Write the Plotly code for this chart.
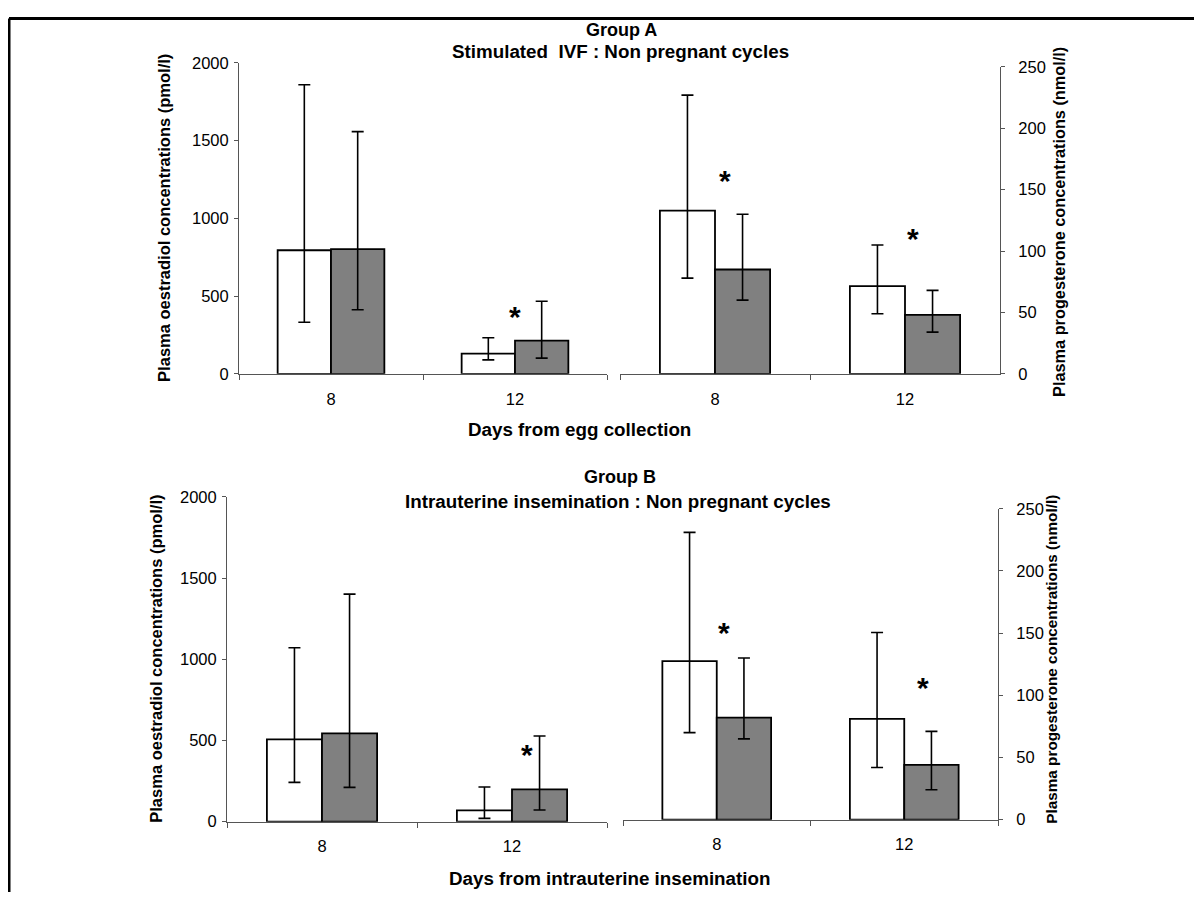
import plotly.graph_objects as go

# ---------------- data ----------------
days = ["8", "12"]

# Group A - oestradiol (pmol/l)
a_e2_ctrl_mean = [795, 130]
a_e2_ctrl_high = [1860, 232]
a_e2_ctrl_low = [332, 90]
a_e2_trt_mean = [802, 214]
a_e2_trt_high = [1558, 467]
a_e2_trt_low = [412, 101]

# Group A - progesterone (nmol/l)
a_p4_ctrl_mean = [133, 71.5]
a_p4_ctrl_high = [227, 105]
a_p4_ctrl_low = [78, 49]
a_p4_trt_mean = [85, 48]
a_p4_trt_high = [130, 68]
a_p4_trt_low = [60, 34]

# Group B - oestradiol (pmol/l)
b_e2_ctrl_mean = [507, 70]
b_e2_ctrl_high = [1071, 213]
b_e2_ctrl_low = [242, 20]
b_e2_trt_mean = [544, 199]
b_e2_trt_high = [1401, 527]
b_e2_trt_low = [211, 72]

# Group B - progesterone (nmol/l)
b_p4_ctrl_mean = [127.5, 81]
b_p4_ctrl_high = [231, 150.5]
b_p4_ctrl_low = [70, 42]
b_p4_trt_mean = [82, 44]
b_p4_trt_high = [130, 71]
b_p4_trt_low = [65, 24]

# significance markers: (category position, value)
a_e2_star_x = [1.0]
a_e2_star_y = [418]
a_p4_star_x = [0.05, 1.04]
a_p4_star_y = [164, 117]
b_e2_star_x = [1.08]
b_e2_star_y = [462]
b_p4_star_x = [0.04, 1.1]
b_p4_star_y = [157, 112.6]

e2_ticks = [0, 500, 1000, 1500, 2000]
p4_ticks = [0, 50, 100, 150, 200, 250]

# ---------------- layout helpers ----------------
OFF = 8  # default body margin of the page
W, H = 1202 - 2 * OFF, 900 - 2 * OFF


def T(y):
    # page position that lands at screen row y
    return (y - 7.2) / 0.98


def px_x(a, b):
    return [(a - OFF) / W, (b - OFF) / W]


def py(y):
    return 1 - (T(y) - OFF) / H


def px_y(top, bottom):
    return [py(bottom), py(top)]


FONT = "Arial, Liberation Sans, sans-serif"
AXC = "#555555"
GREY = "#808080"

fig = go.Figure()


def add_pair(xa, ya, cm, ch, cl, tm, th, tl):
    for mean, hi, lo, fill in ((cm, ch, cl, "white"), (tm, th, tl, GREY)):
        fig.add_trace(go.Bar(
            x=days, y=mean, xaxis=xa, yaxis=ya,
            marker=dict(color=fill, line=dict(color="black", width=1.8)),
            error_y=dict(type="data", symmetric=False,
                         array=[h - m for h, m in zip(hi, mean)],
                         arrayminus=[m - l for m, l in zip(mean, lo)],
                         color="black", thickness=1.6, width=6),
            showlegend=False, hoverinfo="skip"))


add_pair("x", "y", a_e2_ctrl_mean, a_e2_ctrl_high, a_e2_ctrl_low,
         a_e2_trt_mean, a_e2_trt_high, a_e2_trt_low)
add_pair("x2", "y2", a_p4_ctrl_mean, a_p4_ctrl_high, a_p4_ctrl_low,
         a_p4_trt_mean, a_p4_trt_high, a_p4_trt_low)
add_pair("x3", "y3", b_e2_ctrl_mean, b_e2_ctrl_high, b_e2_ctrl_low,
         b_e2_trt_mean, b_e2_trt_high, b_e2_trt_low)
add_pair("x4", "y4", b_p4_ctrl_mean, b_p4_ctrl_high, b_p4_ctrl_low,
         b_p4_trt_mean, b_p4_trt_high, b_p4_trt_low)


def xaxis(dom, anchor):
    return dict(domain=dom, anchor=anchor, type="category", categoryorder="array",
                categoryarray=days, showline=True, linecolor=AXC, linewidth=1,
                ticks="outside", tickson="boundaries", ticklen=5, tickcolor=AXC,
                showgrid=False, zeroline=False, ticklabelstandoff=10,
                tickfont=dict(family=FONT, size=16.5, color="black"))


def yaxis(dom, anchor, rng, tv, side):
    return dict(domain=dom, anchor=anchor, range=rng, tickvals=tv, side=side,
                showline=True, linecolor=AXC, linewidth=1, ticks="outside",
                ticklen=4, tickcolor=AXC, showgrid=False, zeroline=False,
                ticklabelstandoff=(2 if side == "left" else 10),
                tickfont=dict(family=FONT, size=16.5, color="black"))


fig.update_layout(
    width=W, height=H, autosize=False,
    margin=dict(l=0, r=0, t=0, b=0),
    paper_bgcolor="white", plot_bgcolor="rgba(0,0,0,0)",
    barmode="group", bargap=0.42, bargroupgap=0,
    xaxis=xaxis(px_x(239, 607), "y"),
    yaxis=yaxis(px_y(61, 372), "x", [0, 2000], e2_ticks, "left"),
    xaxis2=xaxis(px_x(620, 1000), "y2"),
    yaxis2=yaxis(px_y(65, 372), "x2", [0, 250], p4_ticks, "right"),
    xaxis3=xaxis(px_x(227, 607), "y3"),
    yaxis3=yaxis(px_y(495, 820), "x3", [0, 2000], e2_ticks, "left"),
    xaxis4=xaxis(px_x(623, 998), "y4"),
    yaxis4=yaxis(px_y(507, 818), "x4", [0, 250], p4_ticks, "right"),
)

ann = []


def ptext(text, x, y, size, angle=0):
    ann.append(dict(text=text, xref="paper", yref="paper",
                    x=(x - OFF) / W, y=py(y), showarrow=False,
                    textangle=angle, xanchor="center", yanchor="middle",
                    font=dict(family=FONT, size=size, color="black")))


ptext("<b>Group A</b>", 621, 28, 18)
ptext("<b>Stimulated  IVF : Non pregnant cycles</b>", 620, 50, 18.8)
ptext("<b>Days from egg collection</b>", 579, 428, 18.8)
ptext("<b>Plasma oestradiol concentrations (pmol/l)</b>", 164, 216, 16.5, -90)
ptext("<b>Plasma progesterone concentrations (nmol/l)</b>", 1059, 220, 16.3, -90)

ptext("<b>Group B</b>", 620, 475, 18)
ptext("<b>Intrauterine insemination : Non pregnant cycles</b>", 618, 500, 18.8)
ptext("<b>Days from intrauterine insemination</b>", 609, 877, 18.8)
ptext("<b>Plasma oestradiol concentrations (pmol/l)</b>", 156, 657, 16.5, -90)
ptext("<b>Plasma progesterone concentrations (nmol/l)</b>", 1052, 658, 15.3, -90)

for xa, ya, xs, ys in (("x", "y", a_e2_star_x, a_e2_star_y),
                       ("x2", "y2", a_p4_star_x, a_p4_star_y),
                       ("x3", "y3", b_e2_star_x, b_e2_star_y),
                       ("x4", "y4", b_p4_star_x, b_p4_star_y)):
    for sx, sy in zip(xs, ys):
        ann.append(dict(text="<b>*</b>", xref=xa, yref=ya, x=sx, y=sy,
                        showarrow=False, xanchor="center", yanchor="middle",
                        yshift=-8,
                        font=dict(family=FONT, size=30, color="black")))

fig.update_layout(annotations=ann)

# page frame (left and top edges)
top_edge = 1 - (9.5 - OFF) / H
fig.add_shape(type="line", xref="paper", yref="paper",
              x0=(9 - OFF) / W, x1=(9 - OFF) / W, y0=-0.05, y1=top_edge,
              line=dict(color="black", width=3))
fig.add_shape(type="line", xref="paper", yref="paper",
              x0=(9 - OFF) / W, x1=1.05, y0=top_edge, y1=top_edge,
              line=dict(color="black", width=3))

fig.write_html("out.html")
